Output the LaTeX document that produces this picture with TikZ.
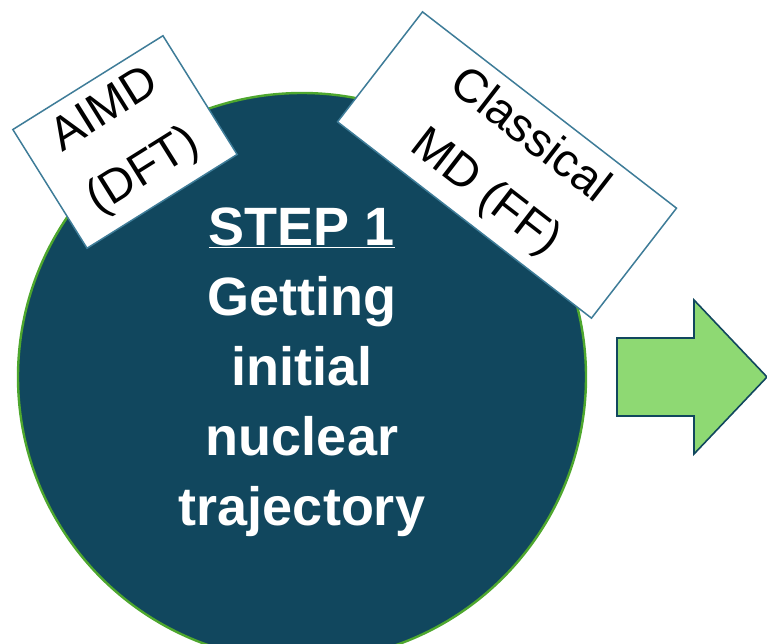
\documentclass[tikz,border=0pt]{standalone}
\usepackage{fontspec}
\setmainfont{Liberation Sans}
\usetikzlibrary{positioning}
\definecolor{cTeal}{RGB}{17,71,94}
\definecolor{cRim}{RGB}{78,167,46}
\definecolor{cFrame}{RGB}{62,124,152}
\definecolor{cArrow}{RGB}{142,217,115}
\tikzset{
	stepdisk/.style ={circle, minimum size=568pt, inner sep=0pt, draw=cRim, line width=2.4pt, fill=cTeal},
	steptext/.style ={align=center, text=white, inner sep=0pt, font=\fontsize{54}{70}\selectfont\bfseries},
	methodbox/.style={rectangle, draw=cFrame, line width=1.5pt, fill=white, align=center, inner sep=0pt, font=\fontsize{47}{72}\selectfont},
	blockarrow/.style={draw=cTeal, line width=1.6pt, fill=cArrow, line join=miter},
}
\begin{document}
\begin{tikzpicture}[x=1pt, y=-1pt]
	\useasboundingbox (0,0) rectangle (767,644);
	% step disk and its text
	\node[stepdisk] (step1) at (302,377) {};
	\node[steptext] (step1text) at ([yshift=5pt]step1.center) {\underline{STEP 1}\\Getting\\initial\\nuclear\\trajectory};
	% method labels on the rim
	\node[methodbox, minimum width=177pt, minimum height=140pt, rotate=32] (aimd) at (125,142) {\raisebox{-4pt}{AIMD}\\\raisebox{-4pt}{(DFT)}};
	\node[methodbox, minimum width=321pt, minimum height=139pt, rotate=-37.7] (classical) at (507,165) {\raisebox{-3pt}{Classical}\\\raisebox{-3pt}{MD (FF)}};
	% outgoing arrow
	\draw[blockarrow] (617,338) -- (694,338) -- (694,300) -- (767,377) -- (694,454) -- (694,416) -- (617,416) -- cycle;
\end{tikzpicture}
\end{document}
